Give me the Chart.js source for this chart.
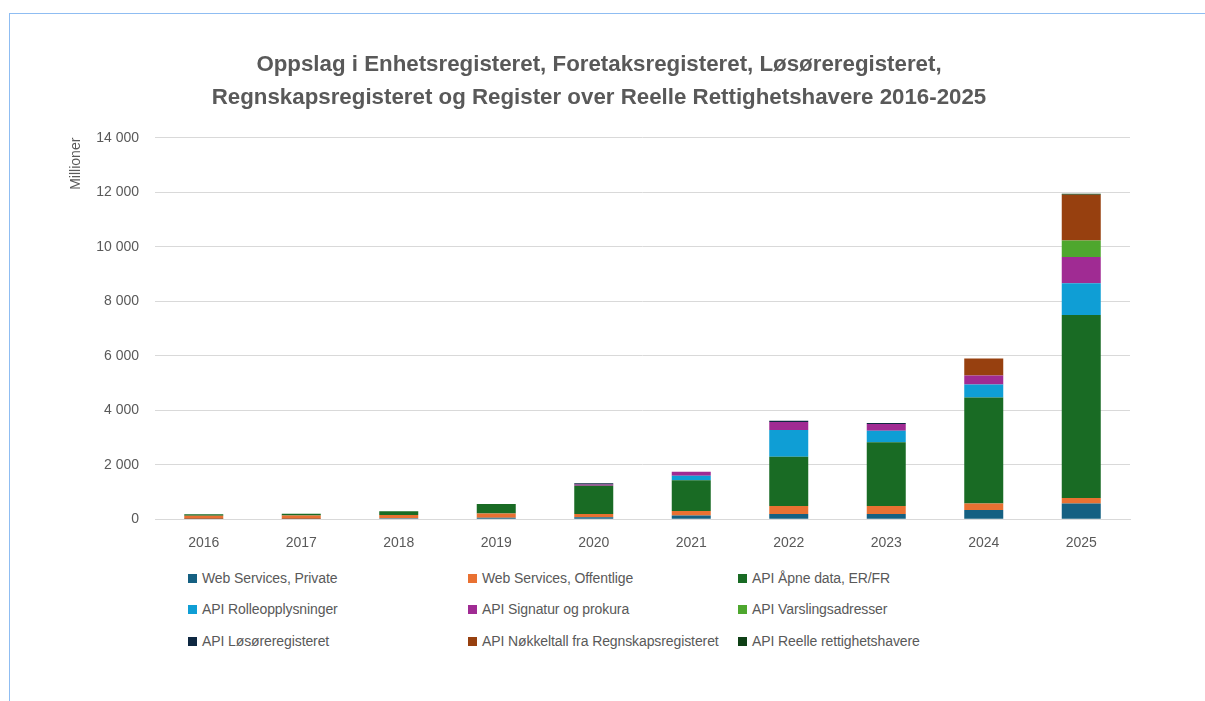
<!DOCTYPE html>
<html>
<head>
<meta charset="utf-8">
<script src="https://cdn.jsdelivr.net/npm/chart.js@4/dist/chart.umd.min.js"></script>
<style>
  html, body { margin: 0; padding: 0; background: #fff; }
  body { width: 1205px; height: 701px; position: relative; overflow: hidden; }
  .frame { position: absolute; left: 9px; top: 13px; right: 0; bottom: 0;
           border-top: 1px solid #8fbdf2; border-left: 1px solid #8fbdf2; }
  #wrap { position: absolute; left: 0; top: 0; width: 1205px; height: 560px; }
  #legend { position: absolute; left: 0; top: 567px; width: 1205px;
            font-family: "Liberation Sans", Arial, sans-serif;
            font-size: 14px; color: #595959; letter-spacing: -0.1px; }
  .leg-item { position: absolute; white-space: nowrap; line-height: 22px; }
  .leg-box { display: inline-block; width: 9px; height: 9px; margin-right: 5px; vertical-align: 0px; }
</style>
</head>
<body>
<div class="frame"></div>
<div id="wrap"><canvas id="chart"></canvas></div>
<div id="legend"></div>
<script>
const years = ["2016", "2017", "2018", "2019", "2020", "2021", "2022", "2023", "2024", "2025"];
const yTicks = [0, 2000, 4000, 6000, 8000, 10000, 12000, 14000];

// millioner oppslag per år, lest av bildet
const wsPrivate    = [10, 10, 35, 50, 70, 135, 195, 195, 340, 580];
const wsOffentlige = [120, 130, 120, 160, 120, 170, 290, 290, 240, 200];
const apiApneData  = [50, 60, 135, 350, 1035, 1120, 1810, 2335, 3890, 6710];
const apiRolle     = [0, 0, 0, 0, 0, 170, 975, 425, 475, 1170];
const apiSignatur  = [0, 0, 0, 0, 50, 145, 300, 245, 330, 960];
const apiVarsling  = [0, 0, 0, 0, 0, 0, 0, 0, 0, 610];
const apiLosore    = [0, 0, 0, 0, 40, 0, 40, 40, 0, 0];
const apiNokkeltall = [0, 0, 0, 0, 0, 0, 0, 0, 620, 1680];
const apiReelle    = [0, 0, 0, 0, 0, 0, 0, 0, 0, 30];

const seriesLabels = [
  "Web Services, Private",
  "Web Services, Offentlige",
  "API Åpne data, ER/FR",
  "API Rolleopplysninger",
  "API Signatur og prokura",
  "API Varslingsadresser",
  "API Løsøreregisteret",
  "API Nøkkeltall fra Regnskapsregisteret",
  "API Reelle rettighetshavere",
];
const seriesValues = [wsPrivate, wsOffentlige, apiApneData, apiRolle, apiSignatur,
  apiVarsling, apiLosore, apiNokkeltall, apiReelle];
const seriesColors = ["#156082", "#e97132", "#196b24", "#0f9ed5", "#a02b93",
  "#4ea72e", "#0e2841", "#97400f", "#0f4016"];

const grey = "#595959";

function formatThousands(v) {
  return String(v).replace(/\B(?=(\d{3})+(?!\d))/g, " ");
}

function buildLegend() {
  const cols = [188, 468, 738];
  const rows = [0, 31, 63];
  document.getElementById("legend").innerHTML = seriesLabels
    .map((label, i) => `
      <div class="leg-item" style="left:${cols[i % 3]}px;top:${rows[Math.floor(i / 3)]}px">
        <span class="leg-box" style="background:${seriesColors[i]}"></span>${label}
      </div>`)
    .join("");
}

function build() {
  const ctx = document.getElementById("chart").getContext("2d");
  new Chart(ctx, {
    type: "bar",
    data: {
      labels: years,
      datasets: seriesLabels.map((label, i) => ({
        label,
        data: seriesValues[i],
        backgroundColor: seriesColors[i],
        borderWidth: 0,
        barPercentage: 0.8,
        categoryPercentage: 0.5,
      })),
    },
    options: {
      responsive: true,
      maintainAspectRatio: false,
      animation: false,
      layout: { padding: { left: 68, right: 75, top: 0, bottom: 0 } },
      plugins: {
        legend: { display: false },
        tooltip: { enabled: false },
        title: {
          display: true,
          text: [
            "Oppslag i Enhetsregisteret, Foretaksregisteret, Løsøreregisteret,",
            "Regnskapsregisteret og Register over Reelle Rettighetshavere 2016-2025",
          ],
          color: grey,
          font: { family: "'Liberation Sans', Arial", size: 22.3, weight: "bold", lineHeight: 1.45 },
          padding: { top: 49, bottom: 24 },
        },
      },
      scales: {
        x: {
          stacked: true,
          grid: { display: false },
          border: { display: true, color: "#d9d9d9" },
          ticks: { color: grey, font: { family: "'Liberation Sans', Arial", size: 14 }, padding: 8 },
        },
        y: {
          stacked: true,
          min: 0,
          max: 14000,
          afterBuildTicks: (scale) => { scale.ticks = yTicks.map((v) => ({ value: v })); },
          afterFit: (scale) => { scale.width = 87; },
          grid: { color: "#d9d9d9", drawTicks: false },
          border: { display: false },
          ticks: {
            color: grey,
            padding: 16,
            font: { family: "'Liberation Sans', Arial", size: 14 },
            callback: (v) => formatThousands(v),
          },
          title: {
            display: true,
            text: "Millioner",
            align: "end",
            color: grey,
            font: { family: "'Liberation Sans', Arial", size: 14 },
            padding: { top: 0, bottom: 0 },
          },
        },
      },
    },
  });
}

window.addEventListener("DOMContentLoaded", function () {
  buildLegend();
  build();
});
</script>
</body>
</html>
